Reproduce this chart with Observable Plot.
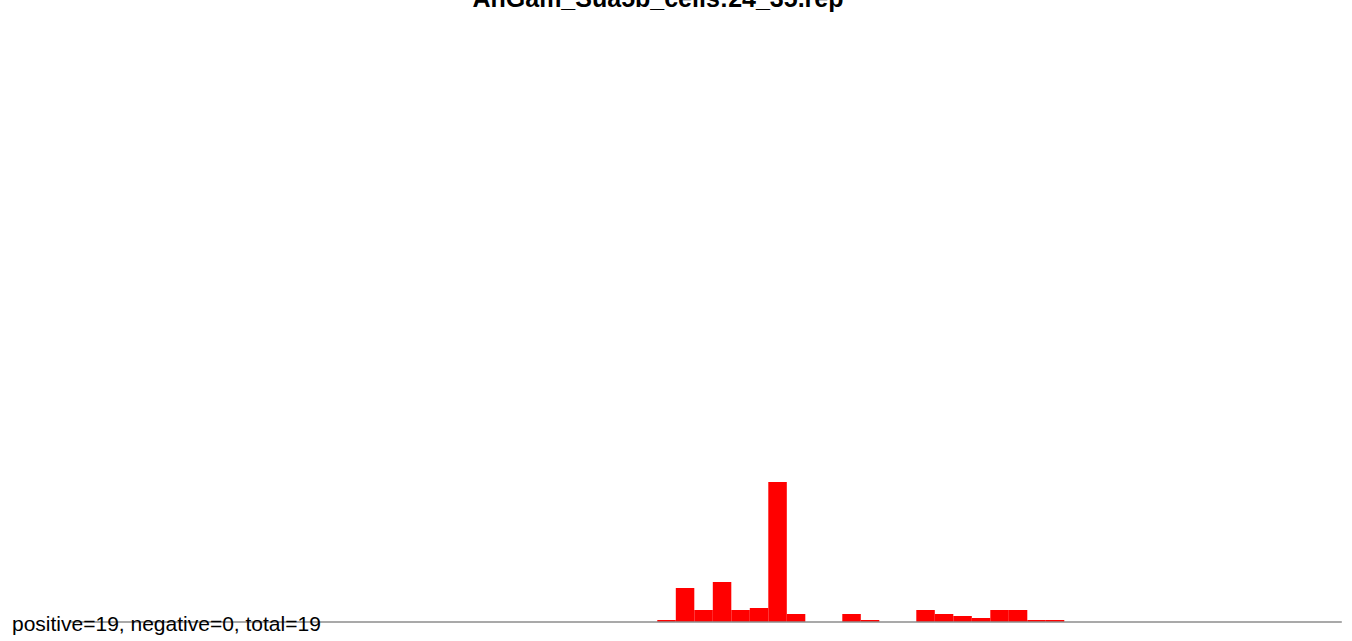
<!DOCTYPE html>
<html>
<head>
<meta charset="utf-8">
<script src="https://cdn.jsdelivr.net/npm/d3@7"></script>
<script src="https://cdn.jsdelivr.net/npm/@observablehq/plot@0.6"></script>
<style>
  html, body { margin: 0; padding: 0; background: #fff; }
  #wrap { position: relative; width: 1352px; height: 641px; overflow: hidden; font-family: "Liberation Sans", Arial, sans-serif; }
  #title { position: absolute; left: -18px; width: 1352px; top: -14.2px; text-align: center; font-weight: bold; font-size: 25px; line-height: 25px; color: #000; }
  #caption { position: absolute; left: 12px; top: 613.2px; font-size: 21px; line-height: 21px; color: #000; white-space: nowrap; }
</style>
</head>
<body>
<div id="wrap">
  <div id="chart"></div>
  <div id="title"></div>
  <div id="caption"></div>
</div>
<script>
const titleText = "AnGam_Sua5b_cells:24_35.rep";
const captionText = "positive=19, negative=0, total=19";
const binPositions = [0, 1, 2, 3, 4, 5, 6, 7, 10, 11, 14, 15, 16, 17, 18, 19, 20, 21];
const binValues    = [1, 17, 6, 20, 6, 7, 70, 4, 4, 1, 6, 4, 3, 2, 6, 6, 1, 1];
const xDomain = [-31.8, 37];
const yDomain = [0, 300];

const bins = binPositions.map((p, i) => ({x1: p, x2: p + 1, v: binValues[i]}));

const plot = Plot.plot({
  width: 1352,
  height: 641,
  marginLeft: 69,
  marginRight: 10.2,
  marginTop: 22,
  marginBottom: 19,
  x: {domain: xDomain, axis: null},
  y: {domain: yDomain, axis: null},
  marks: [
    Plot.rectY(bins, {x1: "x1", x2: "x2", y: "v", fill: "#ff0000", inset: 0}),
    Plot.ruleY([0], {stroke: "#8c8c8c", strokeWidth: 1.4, dy: -0.5})
  ]
});
document.getElementById("chart").appendChild(plot);
document.getElementById("title").textContent = titleText;
document.getElementById("caption").textContent = captionText;
</script>
</body>
</html>
